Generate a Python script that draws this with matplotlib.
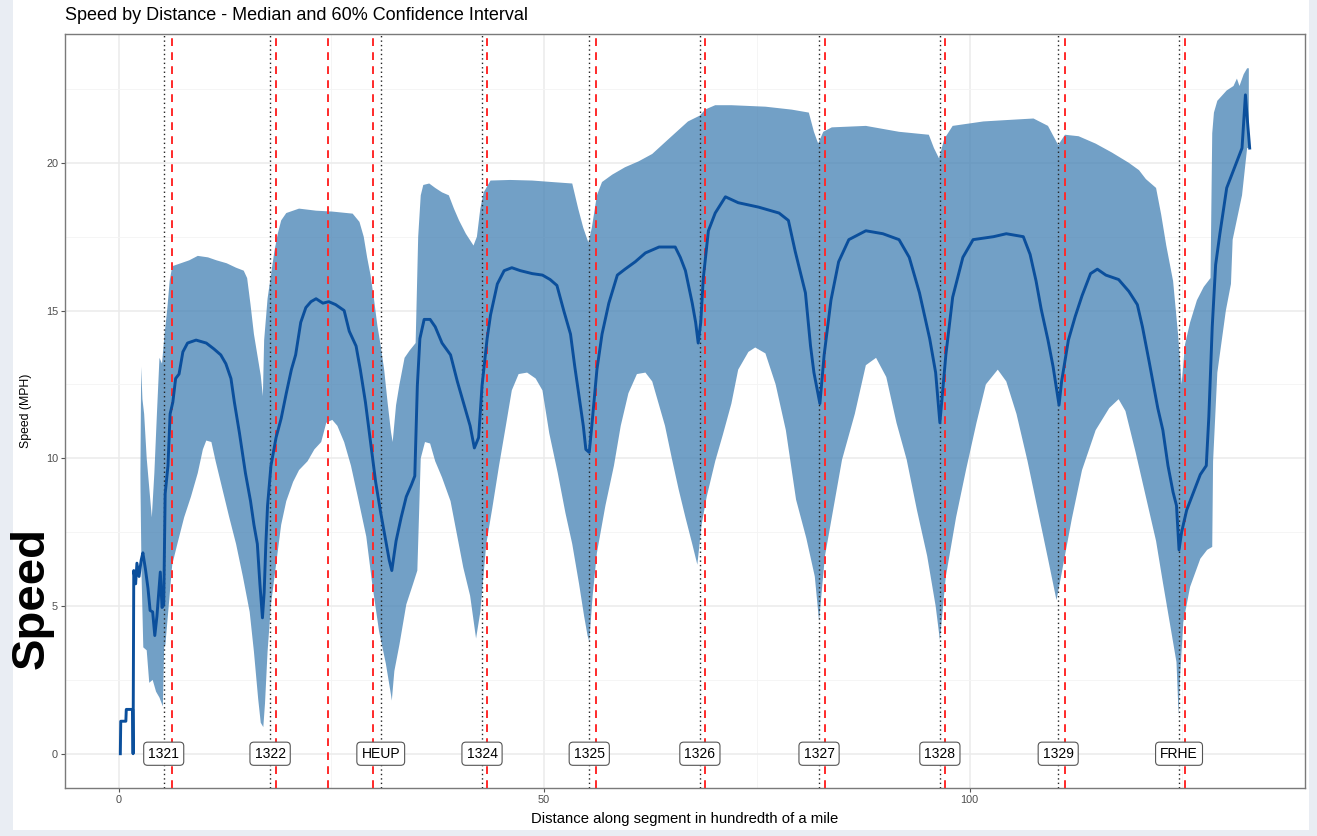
import matplotlib
matplotlib.use("Agg")
import matplotlib.pyplot as plt
from matplotlib.patches import Rectangle
import numpy as np

plt.rcParams['font.family'] = ['Liberation Sans', 'DejaVu Sans']

# ---------------- data ----------------
median_dist = [0.2, 0.25, 0.85, 0.9, 1.65, 1.7, 1.78, 2.0, 2.15, 2.4, 2.65, 2.85, 3.15, 3.45, 3.7, 4.0,
               4.25, 4.5, 4.75, 4.9, 5.1, 5.3, 5.47, 5.8, 6.05, 6.37, 6.7, 7.1, 7.55, 8.1, 9.1, 10.3,
               11.2, 12.0, 12.6, 13.2, 13.6, 14.2, 14.9, 15.5, 15.9, 16.3, 16.6, 16.9, 17.1, 17.3, 17.5,
               17.9, 18.5, 19.1, 19.7, 20.3, 20.8, 21.4, 22.0, 22.6, 23.2, 24.0, 24.7, 25.5, 26.5, 27.1,
               27.9, 28.4, 29.0, 29.6, 30.2, 30.8, 31.4, 31.8, 32.1, 32.6, 33.2, 33.8, 34.4, 34.8, 35.1,
               35.4, 35.9, 36.6, 37.2, 38.0, 39.0, 39.8, 40.5, 41.3, 41.8, 42.3, 42.7, 43.3, 43.7, 44.5,
               45.3, 46.2, 47.2, 48.6, 49.8, 50.7, 51.5, 52.3, 53.1, 53.6, 54.2, 54.6, 54.9, 55.3, 55.6,
               56.2, 56.8, 57.6, 58.6, 59.5, 60.7, 61.9, 63.5, 65.4, 66.0, 66.6, 67.4, 67.8, 68.1, 68.4,
               68.7, 69.3, 70.1, 71.3, 72.8, 75.2, 77.6, 78.7, 79.5, 80.7, 81.3, 81.7, 82.4, 82.9, 83.7,
               84.6, 85.8, 87.8, 89.8, 91.7, 92.9, 94.1, 95.3, 96.0, 96.5, 97.2, 98.0, 99.2, 100.4, 102.8,
               104.3, 106.3, 107.1, 107.8, 108.4, 109.2, 109.8, 110.5, 110.8, 111.6, 112.4, 113.2, 114.2,
               115.0, 116.0, 117.5, 118.7, 119.7, 120.3, 121.1, 122.1, 122.7, 123.3, 123.9, 124.3, 124.6,
               124.9, 125.5, 126.3, 127.1, 127.8, 128.1, 128.5, 128.9, 129.4, 130.2, 130.6, 131.6, 132.0,
               132.4, 132.6, 132.9]
median_speed = [0.0, 1.1, 1.1, 1.5, 1.5, 0.0, 6.2, 5.75, 6.45, 6.0, 6.55, 6.8, 6.25, 5.6, 4.85, 4.8,
                4.0, 4.65, 5.6, 6.15, 4.95, 5.05, 8.8, 9.75, 11.5, 11.9, 12.7, 12.85, 13.6, 13.9, 14.0, 13.9,
                13.7, 13.5, 13.2, 12.7, 11.9, 10.85, 9.5, 8.55, 7.75, 7.1, 5.75, 4.6, 5.45, 7.1, 8.4,
                9.75, 10.7, 11.35, 12.2, 13.0, 13.5, 14.6, 15.1, 15.3, 15.4, 15.25, 15.3, 15.2, 15.0, 14.3,
                13.8, 13.0, 11.9, 10.55, 9.2, 8.15, 7.2, 6.55, 6.2, 7.2, 8.0, 8.7, 9.1, 9.4, 12.45,
                14.05, 14.7, 14.7, 14.45, 13.9, 13.5, 12.6, 11.9, 11.1, 10.35, 10.7, 12.45, 14.05, 14.85, 15.9,
                16.35, 16.45, 16.35, 16.25, 16.2, 16.05, 15.85, 15.0, 14.2, 13.1, 11.9, 11.1, 10.3, 10.2, 11.1,
                13.0, 14.2, 15.25, 16.2, 16.4, 16.65, 16.95, 17.15, 17.15, 16.8, 16.35, 15.25, 14.6, 13.9, 14.6,
                16.1, 17.7, 18.3, 18.85, 18.65, 18.5, 18.3, 18.05, 17.0, 15.6, 13.8, 12.9, 11.85, 13.5, 15.35,
                16.65, 17.4, 17.7, 17.6, 17.4, 16.8, 15.6, 14.05, 12.9, 11.2, 13.5, 15.45, 16.8, 17.4, 17.5,
                17.6, 17.5, 16.9, 16.0, 15.05, 14.0, 13.1, 11.8, 12.6, 14.0, 14.8, 15.5, 16.25,
                16.4, 16.2, 16.05, 15.65, 15.2, 14.45, 13.25, 11.7, 10.95, 9.75, 8.85, 8.4, 6.9,
                7.5, 8.25, 8.85, 9.45, 9.75, 11.4, 14.45, 16.55, 17.6, 19.15, 19.45, 20.2, 20.5,
                22.3, 21.55, 20.5]

upper_dist = [2.55, 2.65, 2.8, 3.0, 3.3, 3.6, 3.9, 4.2, 4.5, 4.8, 5.1, 5.4, 5.7, 6.0, 6.3, 7.3, 8.3,
              9.3, 10.5, 11.5, 12.7, 13.8, 14.7, 15.1, 15.5, 15.9, 16.3, 16.7, 16.95, 17.1, 17.5, 17.9,
              18.3, 18.7, 19.1, 19.7, 21.2, 23.2, 25.1, 27.5, 28.3, 28.8, 29.2, 29.6, 30.0, 30.4, 30.8,
              31.2, 31.6, 32.0, 32.2, 32.6, 33.0, 33.6, 34.2, 34.9, 35.2, 35.5, 35.8, 36.5, 37.2, 38.0,
              38.8, 39.4, 40.0, 40.8, 41.7, 42.1, 42.5, 42.9, 43.7, 46.0, 48.6, 50.9, 53.3, 54.0, 54.6,
              55.2, 55.6, 56.2, 56.8, 58.0, 59.5, 61.1, 62.7, 64.6, 66.9, 68.3, 68.9, 70.1, 72.0, 76.0,
              79.1, 81.1, 81.7, 82.2, 82.8, 83.8, 87.8, 91.7, 95.2, 95.8, 96.4, 97.0, 98.0, 101.6, 104.5,
              107.5, 109.2, 110.4, 111.2, 112.8, 114.8, 116.7, 118.7, 119.9, 120.7, 121.9, 122.5, 123.1,
              123.9, 124.5, 124.9, 125.3, 125.9, 126.7, 127.5, 128.3, 128.5, 128.7, 129.1, 130.2, 131.0,
              131.4, 131.7, 132.2, 132.6, 132.8]
upper_speed = [9.0, 13.1, 12.0, 11.5, 10.0, 9.0, 8.0, 9.5, 11.5, 13.4, 13.2, 14.2, 15.0, 16.0, 16.5, 16.6, 16.7,
               16.85, 16.8, 16.7, 16.6, 16.45, 16.35, 16.1, 15.2, 14.2, 13.5, 12.8, 12.1, 14.0, 15.4, 16.2,
               17.0, 17.6, 18.05, 18.3, 18.45, 18.38, 18.35, 18.28, 18.0, 17.5, 16.8, 16.2, 15.4, 14.5, 13.8,
               13.0, 11.9, 10.9, 10.55, 11.8, 12.5, 13.4, 13.65, 13.9, 17.5, 18.9, 19.25, 19.3, 19.15, 19.0,
               18.9, 18.45, 18.05, 17.6, 17.2, 17.5, 18.45, 19.0, 19.4, 19.42, 19.4, 19.35, 19.3, 18.45, 17.8,
               17.3, 17.8, 18.9, 19.35, 19.6, 19.85, 20.05, 20.3, 20.8, 21.4, 21.6, 21.8, 21.95, 21.95, 21.9,
               21.8, 21.7, 21.05, 20.65, 21.05, 21.2, 21.25, 21.05, 20.95, 20.5, 20.15, 20.8, 21.25, 21.4, 21.45,
               21.5, 21.25, 20.6, 20.95, 20.9, 20.65, 20.35, 20.0, 19.75, 19.45, 19.15, 18.25, 17.2,
               16.0, 14.15, 12.5, 13.85, 14.6, 15.35, 15.8, 16.1, 21.0, 21.7, 22.1, 22.45, 22.6,
               22.85, 22.6, 23.0, 23.2, 23.2]

lower_dist = [2.55, 2.7, 2.9, 3.3, 3.6, 4.0, 4.4, 4.8, 5.2, 5.35, 5.5, 5.9, 6.3, 6.9, 7.7, 8.5, 9.3,
              9.9, 10.3, 10.9, 11.4, 12.2, 13.0, 13.8, 14.6, 15.4, 15.9, 16.4, 16.7, 17.0, 17.2, 17.5,
              17.9, 18.5, 19.1, 19.7, 20.5, 21.2, 22.2, 23.0, 23.8, 24.4, 25.1, 25.7, 26.5, 27.3, 28.1,
              29.1, 29.8, 30.6, 31.4, 32.0, 32.1, 32.4, 33.0, 33.8, 34.6, 35.1, 35.5, 36.0, 36.6, 37.2,
              38.0, 39.0, 39.8, 40.5, 41.3, 42.0, 42.5, 43.2, 43.9, 44.7, 45.5, 46.2, 47.0, 48.0, 49.0,
              49.8, 50.6, 51.6, 52.5, 53.3, 54.1, 54.7, 55.1, 55.3, 55.7, 56.2, 57.2, 58.2, 59.0, 59.9,
              60.9, 61.9, 62.7, 63.5, 64.2, 65.0, 65.8, 66.6, 67.4, 68.0, 68.5, 69.1, 70.1, 71.0, 72.0,
              72.8, 74.0, 74.8, 76.0, 77.2, 78.4, 79.6, 80.8, 81.8, 82.3, 83.0, 83.8, 85.0, 86.5, 87.8,
              89.0, 90.2, 91.4, 92.6, 93.8, 95.0, 96.0, 96.5, 97.2, 98.4, 99.6, 100.8, 101.9, 103.3, 104.3,
              105.5, 106.8, 108.0, 109.2, 110.2, 110.8, 112.0, 113.2, 114.8, 116.4, 117.5, 118.3, 119.5,
              120.7, 121.9, 122.7, 123.5, 124.3, 124.55, 124.7, 125.1, 125.9, 127.1, 127.9, 128.5, 128.6,
              129.1, 130.1, 130.7, 130.9, 132.0, 132.6, 132.8]
lower_speed = [9.5, 6.0, 3.6, 3.5, 2.4, 2.5, 2.1, 1.9, 1.6, 3.6, 3.7, 5.05, 6.4, 7.1, 8.0, 8.7, 9.5,
               10.3, 10.6, 10.55, 9.9, 8.95, 8.0, 7.1, 6.0, 4.8, 3.45, 1.85, 1.05, 0.9, 1.7, 3.45,
               5.05, 6.4, 7.75, 8.55, 9.2, 9.6, 9.9, 10.3, 10.55, 11.2, 11.3, 11.1, 10.55, 9.75, 8.7,
               7.35, 5.75, 4.15, 3.05, 2.0, 1.8, 2.8, 3.7, 5.05, 5.75, 6.2, 10.0, 10.55, 10.5, 9.9,
               9.35, 8.55, 7.35, 6.3, 5.35, 3.9, 4.8, 7.1, 8.3, 9.75, 11.1, 12.3, 12.85, 12.9, 12.7,
               12.3, 10.85, 9.5, 8.15, 7.1, 5.75, 4.65, 4.0, 3.8, 5.35, 6.8, 8.4, 9.75, 11.1, 12.2,
               12.85, 12.9, 12.6, 11.8, 11.1, 10.0, 8.95, 8.0, 7.1, 6.4, 7.75, 8.7, 9.9, 10.8, 11.85,
               13.0, 13.6, 13.75, 13.55, 12.5, 10.95, 8.6, 7.3, 6.0, 4.5, 6.7, 8.0, 9.95, 11.5, 13.15,
               13.4, 12.75, 11.2, 9.95, 8.25, 6.7, 5.0, 3.85, 6.0, 8.0, 9.65, 11.2, 12.5, 13.0, 12.6,
               11.5, 9.9, 8.25, 6.6, 5.2, 6.1, 7.95, 9.6, 10.95, 11.7, 12.0, 11.6, 10.2,
               8.7, 7.2, 5.8, 4.45, 3.1, 1.3, 2.5, 4.45, 5.65, 6.6, 6.9, 7.0, 9.9,
               12.9, 15.0, 15.9, 17.4, 18.9, 20.5, 20.5]

stop_dist = [5.3, 17.8, 30.8, 42.7, 55.3, 68.3, 82.3, 96.5, 110.4, 124.6]
stop_names = ['1321', '1322', 'HEUP', '1324', '1325', '1326', '1327', '1328', '1329', 'FRHE']
red_dist = [6.25, 18.45, 24.65, 29.9, 43.25, 56.1, 68.9, 83.05, 97.1, 111.2, 125.3]

x_ticks = [0, 50, 100]
y_ticks = [0, 5, 10, 15, 20]

# ---------------- figure ----------------
W, H = 1317, 836
fig = plt.figure(figsize=(W / 100, H / 100), dpi=100, facecolor='#e9edf3')
bg = Rectangle((13 / W, (H - 830) / H), (1309 - 13) / W, 830 / H,
               transform=fig.transFigure, facecolor='white', edgecolor='none', zorder=-10)
fig.patches.append(bg)

ax = fig.add_axes([65 / W, (H - 788) / H, (1305 - 65) / W, (788 - 34) / H])
ax.set_zorder(1)
ax.set_facecolor('white')
ax.set_xlim(-6.3, 139.4)
ax.set_ylim(-1.16, 24.36)

# grid
ax.set_xticks(x_ticks)
ax.set_yticks(y_ticks)
ax.set_xticks([25, 75, 125], minor=True)
ax.set_yticks([2.5, 7.5, 12.5, 17.5, 22.5], minor=True)
ax.grid(True, which='major', color='#ebebeb', linewidth=1.1, zorder=0)
ax.grid(True, which='minor', color='#f4f4f4', linewidth=0.6, zorder=0)
ax.set_axisbelow(True)
ax.tick_params(which='minor', length=0)
ax.tick_params(which='major', length=3, width=0.8, color='#555555', labelsize=7.8,
               labelcolor='#4d4d4d', pad=2)
for s in ax.spines.values():
    s.set_color('#7a7a7a')
    s.set_linewidth(1.0)

# ribbon
poly_x = np.concatenate([upper_dist, lower_dist[::-1]])
poly_y = np.concatenate([upper_speed, lower_speed[::-1]])
ax.fill(poly_x, poly_y, color='#4682b4', alpha=0.76, linewidth=0, zorder=2)

# reference lines
for xv in stop_dist:
    ax.axvline(xv, color='#222222', linestyle=(0, (1, 2.2)), linewidth=1.0, zorder=3)
for xv in red_dist:
    ax.axvline(xv, color='#ff2a2a', linestyle=(0, (4, 3.2)), linewidth=1.4, zorder=3)

# median
ax.plot(median_dist, median_speed, color='#0b4f9c', linewidth=2.1, zorder=4,
        solid_joinstyle='round')

# stop labels
for xv, name in zip(stop_dist, stop_names):
    ax.text(xv, 0, name, ha='center', va='center', fontsize=10, color='black', zorder=6,
            bbox=dict(boxstyle='round,pad=0.33,rounding_size=0.28', facecolor='white',
                      edgecolor='#555555', linewidth=0.8))

ax.set_xlabel('Distance along segment in hundredth of a mile', fontsize=10.7, labelpad=5)
ax.set_ylabel('Speed (MPH)', fontsize=8.8, labelpad=10)

fig.text(65 / W, 1 - 15 / H, 'Speed by Distance - Median and 60% Confidence Interval',
         ha='left', va='center', fontsize=13)
fig.text(32 / W, 1 - 598 / H, 'Speed', rotation=90, ha='center', va='center',
         fontsize=34, fontweight='bold', color='black', zorder=5)

fig.savefig('out.png', dpi=100, facecolor=fig.get_facecolor())
